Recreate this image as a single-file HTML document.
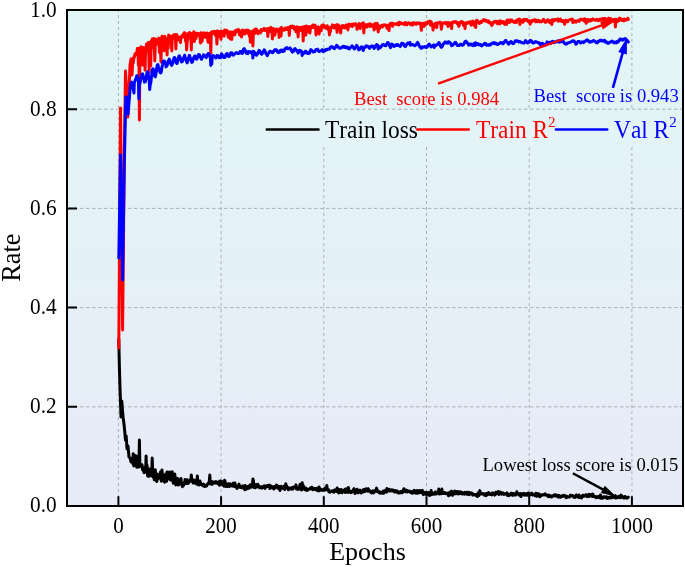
<!DOCTYPE html>
<html><head><meta charset="utf-8"><style>
html,body{margin:0;padding:0;background:#fff;width:685px;height:567px;overflow:hidden}
svg{display:block;will-change:transform}
text{font-family:"Liberation Serif",serif;font-kerning:none}
</style></head><body>
<svg width="685" height="567" viewBox="0 0 685 567">
<defs>
<linearGradient id="bg" gradientUnits="userSpaceOnUse" x1="0" y1="10" x2="0" y2="506">
<stop offset="0" stop-color="#E2F6F6"/>
<stop offset="1" stop-color="#E7EBF8"/>
</linearGradient>
</defs>
<rect x="67" y="10" width="616" height="496" fill="url(#bg)"/>
<g stroke="#aeb1b5" stroke-width="1" fill="none">
<path stroke-dasharray="3.6,2.4" d="M67.9,406.8H683 M67.9,307.6H683 M67.9,208.4H683 M67.9,109.2H683"/>
<path stroke-dasharray="3.1,2.9" d="M118.4,9.0V506 M221.1,9.0V506 M323.8,9.0V506 M426.5,9.0V506 M529.2,9.0V506 M631.9,9.0V506"/>
</g>
<rect x="262.8" y="111" width="420" height="33.8" fill="url(#bg)"/>
<g fill="none" stroke-linejoin="round" stroke-linecap="round" stroke-width="3">
<path stroke="#000" d="M118.8,339.0L119.4,367.0L120.0,388.0L120.4,399.0L121.0,417.0L121.8,401.0L122.6,412.0L123.2,418.0L124.0,424.0L124.8,432.0L125.5,440.0L126.2,436.0L127.0,449.0L128.0,446.0L129.0,457.0L130.0,458.0L131.0,462.0L132.0,458.0L133.0,464.0L133.2,453.7L133.8,465.9L134.3,463.6L134.8,462.8L135.3,455.6L135.8,464.5L136.3,465.0L136.8,467.3L137.3,459.8L137.9,455.9L138.4,464.2L138.9,467.0L139.4,440.0L139.9,465.4L140.4,464.2L140.9,466.2L141.5,466.3L142.0,464.7L142.5,469.3L143.0,470.4L143.5,467.7L144.0,472.7L144.5,471.8L145.1,471.8L145.6,472.0L146.1,456.0L146.6,469.8L147.1,465.2L147.6,475.9L148.1,471.3L148.6,476.4L149.2,469.0L149.7,471.7L150.2,469.2L150.7,475.3L151.2,475.9L151.7,473.3L152.2,458.0L152.8,475.5L153.3,477.3L153.8,475.7L154.3,479.7L154.8,476.8L155.3,469.8L155.8,479.6L156.3,480.7L156.9,481.4L157.4,474.1L157.9,478.8L158.4,477.8L158.9,476.8L159.4,475.3L159.9,477.7L160.5,471.9L161.0,479.7L161.5,481.3L162.0,470.0L162.5,477.9L163.0,475.8L163.5,478.7L164.1,481.2L164.6,482.2L165.1,475.0L165.6,474.0L166.1,479.7L166.6,481.3L167.1,472.0L167.6,476.8L168.2,478.8L168.7,478.4L169.2,478.3L169.7,472.0L170.2,479.9L170.7,480.1L171.2,479.7L171.8,479.8L172.3,471.8L172.8,480.0L173.3,483.2L173.8,478.5L174.3,478.9L174.8,474.0L175.3,482.3L175.9,484.9L176.4,481.2L176.9,480.1L177.4,478.3L177.9,482.9L178.4,485.1L178.9,479.8L179.5,480.8L180.0,483.7L180.5,482.3L181.0,478.5L181.5,484.4L182.0,485.5L182.5,486.7L183.1,484.5L183.6,485.4L184.1,482.8L184.6,483.6L185.1,479.5L185.6,480.3L186.1,483.6L186.6,481.2L187.2,479.7L187.7,482.5L188.2,483.4L188.7,482.3L189.2,482.4L189.7,480.5L190.2,479.7L190.8,479.9L191.3,475.0L191.8,480.1L192.3,481.4L192.8,482.4L193.3,483.1L193.8,482.3L194.3,480.0L194.9,482.4L195.4,482.7L195.9,483.7L196.4,483.0L196.9,481.3L197.4,476.0L197.9,484.8L198.5,483.0L199.0,484.3L199.5,484.8L200.0,481.1L200.5,483.0L201.0,483.7L201.5,484.5L202.1,485.1L202.6,485.3L203.1,485.8L203.6,484.1L204.1,486.1L204.6,485.5L205.1,486.5L205.6,485.5L206.2,485.0L206.7,486.0L207.2,484.6L207.7,484.1L208.2,483.4L208.7,482.6L209.2,483.0L209.8,475.0L210.3,483.9L210.8,483.5L211.3,484.1L211.8,481.6L212.3,484.2L212.8,482.0L213.3,481.9L213.9,482.5L214.4,482.0L214.9,483.1L215.4,482.1L215.9,481.6L216.4,482.1L216.9,482.9L217.5,483.7L218.0,482.3L218.5,483.6L219.0,481.4L219.5,485.3L220.0,480.9L220.5,483.3L221.0,483.4L221.6,481.2L222.1,483.6L222.6,484.9L223.1,484.7L223.6,484.9L224.1,486.1L224.6,480.3L225.2,481.9L225.7,485.5L226.2,486.5L226.7,484.5L227.2,486.5L227.7,484.7L228.2,483.7L228.8,485.2L229.3,486.6L229.8,485.6L230.3,483.9L230.8,485.5L231.3,484.5L231.8,485.3L232.3,486.1L232.9,483.8L233.4,483.0L233.9,486.0L234.4,486.5L234.9,483.1L235.4,485.3L235.9,485.6L236.5,487.7L237.0,488.5L237.5,486.3L238.0,487.3L238.5,486.0L239.0,484.1L239.5,486.8L240.0,487.3L240.6,486.5L241.1,487.5L241.6,487.9L242.1,486.4L242.6,485.9L243.1,487.6L243.6,487.9L244.2,488.0L244.7,489.7L245.2,485.6L245.7,488.0L246.2,487.9L246.7,489.0L247.2,488.4L247.8,488.3L248.3,486.2L248.8,487.0L249.3,488.2L249.8,486.5L250.3,484.7L250.8,486.1L251.3,487.1L251.9,486.3L252.4,485.6L252.9,479.0L253.4,480.5L253.9,487.4L254.4,484.3L254.9,485.2L255.5,487.7L256.0,486.5L256.5,484.6L257.0,486.8L257.5,485.8L258.0,484.4L258.5,486.1L259.0,487.4L259.6,487.9L260.1,487.3L260.6,487.1L261.1,487.5L261.6,486.7L262.1,488.2L262.6,487.0L263.2,487.2L263.7,487.5L264.2,485.8L264.7,486.1L265.2,488.4L265.7,486.9L266.2,486.0L266.8,486.5L267.3,485.6L267.8,486.5L268.3,485.6L268.8,485.7L269.3,485.1L269.8,488.6L270.3,486.8L270.9,485.9L271.4,487.5L271.9,487.4L272.4,488.0L272.9,486.7L273.4,488.4L273.9,489.0L274.5,486.5L275.0,488.1L275.5,487.1L276.0,487.4L276.5,485.0L277.0,485.5L277.5,487.3L278.0,486.8L278.6,488.8L279.1,486.4L279.6,487.5L280.1,490.4L280.6,486.6L281.1,486.4L281.6,487.4L282.2,487.3L282.7,488.2L283.2,487.3L283.7,486.3L284.2,487.1L284.7,489.5L285.2,488.0L285.8,483.8L286.3,486.7L286.8,486.1L287.3,487.9L287.8,487.3L288.3,489.7L288.8,488.9L289.3,488.9L289.9,488.2L290.4,487.9L290.9,488.2L291.4,489.1L291.9,488.3L292.4,487.4L292.9,489.1L293.5,487.9L294.0,487.1L294.5,486.8L295.0,487.0L295.5,487.0L296.0,484.9L296.5,489.0L297.0,488.7L297.6,488.0L298.1,489.4L298.6,488.9L299.1,488.8L299.6,486.0L300.1,484.3L300.6,488.9L301.2,489.8L301.7,490.0L302.2,482.8L302.7,486.8L303.2,485.3L303.7,488.7L304.2,488.4L304.8,489.7L305.3,488.0L305.8,489.8L306.3,488.3L306.8,490.4L307.3,489.4L307.8,490.1L308.3,489.9L308.9,489.0L309.4,489.0L309.9,488.3L310.4,488.8L310.9,488.4L311.4,487.3L311.9,487.3L312.5,489.7L313.0,488.2L313.5,489.5L314.0,489.2L314.5,488.6L315.0,488.6L315.5,489.6L316.0,489.8L316.6,490.2L317.1,488.3L317.6,488.9L318.1,489.3L318.6,491.0L319.1,487.1L319.6,489.9L320.2,489.0L320.7,490.1L321.2,489.3L321.7,490.2L322.2,490.0L322.7,490.2L323.2,490.2L323.8,490.1L324.3,488.9L324.8,490.1L325.3,489.2L325.8,487.5L326.3,489.2L326.8,485.5L327.3,490.1L327.9,489.6L328.4,489.5L328.9,491.8L329.4,491.7L329.9,492.2L330.4,491.7L330.9,491.1L331.5,490.9L332.0,491.2L332.5,491.3L333.0,492.0L333.5,490.6L334.0,492.1L334.5,490.7L335.0,489.9L335.6,490.5L336.1,490.3L336.6,491.4L337.1,488.1L337.6,489.4L338.1,489.5L338.6,492.9L339.2,489.4L339.7,492.7L340.2,490.5L340.7,490.7L341.2,489.5L341.7,490.0L342.2,492.7L342.7,492.0L343.3,491.0L343.8,491.5L344.3,490.3L344.8,489.3L345.3,492.6L345.8,490.0L346.3,488.9L346.9,491.4L347.4,492.2L347.9,492.4L348.4,487.5L348.9,490.7L349.4,491.9L349.9,491.2L350.5,491.3L351.0,492.7L351.5,491.3L352.0,491.8L352.5,491.3L353.0,491.9L353.5,489.5L354.0,488.7L354.6,490.2L355.1,493.5L355.6,492.0L356.1,491.6L356.6,491.4L357.1,489.2L357.6,492.1L358.2,492.9L358.7,490.6L359.2,491.9L359.7,492.0L360.2,490.1L360.7,492.5L361.2,493.0L361.7,492.0L362.3,491.6L362.8,492.2L363.3,489.8L363.8,491.0L364.3,491.6L364.8,489.3L365.3,491.3L365.9,490.1L366.4,488.7L366.9,490.6L367.4,489.9L367.9,491.2L368.4,488.8L368.9,491.0L369.5,490.6L370.0,491.8L370.5,491.1L371.0,491.5L371.5,493.0L372.0,492.2L372.5,491.6L373.0,490.8L373.6,492.9L374.1,492.3L374.6,491.1L375.1,491.4L375.6,490.1L376.1,490.1L376.6,488.1L377.2,491.5L377.7,491.6L378.2,490.9L378.7,492.4L379.2,492.7L379.7,492.3L380.2,493.2L380.7,492.1L381.3,492.4L381.8,493.0L382.3,492.5L382.8,493.1L383.3,491.0L383.8,493.2L384.3,491.0L384.9,491.4L385.4,490.2L385.9,491.8L386.4,492.2L386.9,488.6L387.4,491.5L387.9,489.2L388.5,489.7L389.0,489.8L389.5,489.3L390.0,491.1L390.5,490.4L391.0,490.3L391.5,490.9L392.0,489.8L392.6,490.0L393.1,490.2L393.6,491.6L394.1,491.6L394.6,492.0L395.1,490.6L395.6,490.6L396.2,491.5L396.7,492.2L397.2,491.0L397.7,491.7L398.2,493.1L398.7,493.1L399.2,493.0L399.7,492.0L400.3,491.7L400.8,492.8L401.3,491.3L401.8,492.0L402.3,492.7L402.8,491.1L403.3,490.8L403.9,488.7L404.4,491.6L404.9,491.5L405.4,491.3L405.9,491.8L406.4,490.1L406.9,490.9L407.5,491.9L408.0,491.1L408.5,490.9L409.0,491.1L409.5,491.5L410.0,492.1L410.5,491.4L411.0,492.4L411.6,493.0L412.1,491.9L412.6,493.1L413.1,492.3L413.6,491.1L414.1,490.3L414.6,491.4L415.2,492.9L415.7,491.0L416.2,493.3L416.7,492.7L417.2,490.4L417.7,492.6L418.2,493.2L418.7,491.1L419.3,492.6L419.8,490.4L420.3,492.2L420.8,490.8L421.3,492.8L421.8,491.0L422.3,490.4L422.9,493.0L423.4,494.6L423.9,492.2L424.4,493.4L424.9,492.9L425.4,492.6L425.9,493.6L426.4,494.6L427.0,492.4L427.5,494.0L428.0,494.0L428.5,492.6L429.0,495.1L429.5,495.4L430.0,492.9L430.6,495.0L431.1,490.5L431.6,493.1L432.1,494.4L432.6,493.2L433.1,493.2L433.6,494.2L434.2,494.1L434.7,493.9L435.2,492.0L435.7,491.9L436.2,494.1L436.7,492.4L437.2,493.3L437.7,492.2L438.3,492.9L438.8,489.1L439.3,494.1L439.8,491.9L440.3,492.5L440.8,492.5L441.3,493.7L441.9,489.1L442.4,492.9L442.9,492.9L443.4,493.6L443.9,493.6L444.4,492.6L444.9,492.6L445.4,493.0L446.0,493.7L446.5,493.3L447.0,493.0L447.5,493.7L448.0,494.1L448.5,495.7L449.0,493.5L449.6,492.3L450.1,495.0L450.6,492.1L451.1,492.3L451.6,491.1L452.1,493.4L452.6,495.4L453.2,493.6L453.7,494.2L454.2,493.0L454.7,491.1L455.2,491.2L455.7,493.7L456.2,493.0L456.7,491.7L457.3,493.6L457.8,491.5L458.3,493.6L458.8,493.9L459.3,492.1L459.8,491.9L460.3,493.5L460.9,492.1L461.4,493.8L461.9,492.3L462.4,494.0L462.9,492.7L463.4,493.4L463.9,493.2L464.4,494.1L465.0,492.4L465.5,493.5L466.0,493.2L466.5,493.9L467.0,492.2L467.5,494.4L468.0,492.8L468.6,492.3L469.1,494.3L469.6,494.6L470.1,493.3L470.6,492.8L471.1,493.6L471.6,493.1L472.2,493.5L472.7,495.1L473.2,494.4L473.7,494.3L474.2,494.6L474.7,494.5L475.2,495.3L475.7,495.4L476.3,494.5L476.8,494.8L477.3,496.5L477.8,494.8L478.3,492.7L478.8,495.6L479.3,493.8L479.9,490.6L480.4,494.1L480.9,492.9L481.4,493.3L481.9,494.0L482.4,493.8L482.9,493.5L483.4,493.8L484.0,493.9L484.5,495.3L485.0,493.8L485.5,493.8L486.0,495.7L486.5,493.5L487.0,494.9L487.6,494.6L488.1,493.5L488.6,492.5L489.1,493.9L489.6,494.1L490.1,494.4L490.6,493.8L491.2,494.7L491.7,494.9L492.2,493.1L492.7,492.8L493.2,494.0L493.7,493.4L494.2,493.5L494.7,495.1L495.3,494.4L495.8,492.3L496.3,493.7L496.8,493.6L497.3,493.6L497.8,493.4L498.3,491.5L498.9,494.5L499.4,493.2L499.9,493.6L500.4,492.1L500.9,493.2L501.4,494.2L501.9,493.8L502.4,493.0L503.0,492.8L503.5,493.2L504.0,494.4L504.5,493.8L505.0,494.0L505.5,493.7L506.0,493.8L506.6,494.3L507.1,492.9L507.6,495.6L508.1,494.0L508.6,494.3L509.1,495.7L509.6,494.8L510.2,494.6L510.7,494.0L511.2,493.2L511.7,494.4L512.2,495.1L512.7,493.6L513.2,495.3L513.7,493.5L514.3,493.9L514.8,494.8L515.3,494.4L515.8,495.0L516.3,494.0L516.8,491.8L517.3,493.4L517.9,493.9L518.4,494.1L518.9,493.9L519.4,495.2L519.9,494.5L520.4,493.5L520.9,496.6L521.4,494.1L522.0,493.7L522.5,495.1L523.0,495.1L523.5,493.7L524.0,493.4L524.5,493.7L525.0,495.2L525.6,494.2L526.1,493.8L526.6,494.4L527.1,495.3L527.6,493.4L528.1,494.0L528.6,493.1L529.1,495.4L529.7,495.1L530.2,494.5L530.7,493.9L531.2,494.0L531.7,493.0L532.2,495.0L532.7,494.1L533.3,494.2L533.8,494.7L534.3,495.0L534.8,495.6L535.3,495.8L535.8,493.3L536.3,494.8L536.9,496.2L537.4,493.6L537.9,496.0L538.4,495.2L538.9,493.8L539.4,495.2L539.9,496.8L540.4,495.4L541.0,494.8L541.5,495.5L542.0,495.2L542.5,495.2L543.0,494.5L543.5,494.8L544.0,494.9L544.6,494.2L545.1,493.9L545.6,494.7L546.1,495.2L546.6,495.0L547.1,495.0L547.6,495.1L548.1,496.6L548.7,495.1L549.2,495.8L549.7,496.6L550.2,495.5L550.7,495.8L551.2,496.4L551.7,496.9L552.3,496.0L552.8,496.1L553.3,495.9L553.8,495.1L554.3,495.1L554.8,495.8L555.3,494.8L555.9,496.0L556.4,495.0L556.9,495.6L557.4,496.4L557.9,495.8L558.4,497.2L558.9,495.4L559.4,496.5L560.0,496.6L560.5,497.1L561.0,496.6L561.5,496.0L562.0,495.8L562.5,495.7L563.0,496.4L563.6,495.2L564.1,496.0L564.6,495.7L565.1,496.1L565.6,495.9L566.1,497.7L566.6,496.1L567.1,496.8L567.7,496.9L568.2,497.1L568.7,496.9L569.2,496.7L569.7,496.9L570.2,495.2L570.7,496.1L571.3,495.3L571.8,495.5L572.3,495.4L572.8,495.6L573.3,496.3L573.8,497.3L574.3,496.8L574.9,496.6L575.4,497.3L575.9,495.7L576.4,494.9L576.9,495.9L577.4,495.9L577.9,496.8L578.4,497.3L579.0,495.0L579.5,497.5L580.0,497.0L580.5,496.7L581.0,496.6L581.5,498.1L582.0,496.6L582.6,495.3L583.1,496.4L583.6,495.2L584.1,496.1L584.6,495.5L585.1,495.6L585.6,495.5L586.1,494.7L586.7,496.4L587.2,495.2L587.7,496.7L588.2,495.3L588.7,494.4L589.2,495.9L589.7,496.3L590.3,495.7L590.8,494.6L591.3,495.3L591.8,496.0L592.3,496.5L592.8,494.1L593.3,495.0L593.9,496.0L594.4,496.7L594.9,496.5L595.4,496.5L595.9,497.6L596.4,497.7L596.9,497.6L597.4,496.5L598.0,497.2L598.5,497.1L599.0,496.4L599.5,497.8L600.0,497.3L600.5,495.0L601.0,498.2L601.6,497.8L602.1,497.9L602.6,498.2L603.1,497.9L603.6,496.7L604.1,497.2L604.6,496.8L605.1,497.1L605.7,497.7L606.2,497.9L606.7,496.8L607.2,498.5L607.7,498.1L608.2,497.3L608.7,497.9L609.3,497.5L609.8,497.0L610.3,497.9L610.8,497.3L611.3,496.6L611.8,497.8L612.3,496.9L612.9,497.5L613.4,496.2L613.9,497.1L614.4,496.5L614.9,496.4L615.4,495.7L615.9,498.1L616.4,496.7L617.0,497.0L617.5,497.6L618.0,496.9L618.5,497.4L619.0,496.4L619.5,497.4L620.0,497.0L620.6,497.6L621.1,495.1L621.6,496.5L622.1,496.3L622.6,496.9L623.1,497.4L623.6,498.0L624.1,498.1L624.7,496.7L625.2,496.5L625.7,497.8L626.2,497.9L626.7,497.7L627.2,498.2L627.7,497.8L628.3,497.1"/>
<path stroke="#ff0000" d="M118.8,348.0L120.5,108.0L122.6,330.0L124.2,160.0L125.5,71.0L126.6,90.0L127.8,117.0L128.8,95.0L130.0,65.0L131.0,59.0L132.0,75.0L133.0,58.0L133.2,63.1L133.8,58.6L134.3,57.5L134.8,54.2L135.3,53.9L135.8,53.0L136.3,53.4L136.8,54.7L137.3,48.6L137.9,49.2L138.4,65.5L138.9,48.2L139.4,120.0L139.9,49.2L140.4,48.8L140.9,46.8L141.5,49.1L142.0,50.1L142.5,65.1L143.0,47.6L143.5,48.7L144.0,65.0L144.5,49.2L145.1,70.2L145.6,47.2L146.1,47.6L146.6,44.0L147.1,44.9L147.6,51.2L148.1,43.6L148.6,42.4L149.2,72.0L149.7,43.4L150.2,42.7L150.7,65.9L151.2,41.1L151.7,48.2L152.2,39.1L152.8,40.1L153.3,44.6L153.8,38.6L154.3,44.1L154.8,61.0L155.3,44.1L155.8,39.1L156.3,44.7L156.9,43.5L157.4,41.2L157.9,43.0L158.4,40.5L158.9,38.1L159.4,52.4L159.9,38.8L160.5,50.2L161.0,62.0L161.5,38.8L162.0,36.2L162.5,37.8L163.0,48.1L163.5,48.0L164.1,50.8L164.6,36.2L165.1,47.1L165.6,39.4L166.1,38.8L166.6,42.0L167.1,55.0L167.6,37.8L168.2,48.1L168.7,34.9L169.2,41.5L169.7,36.1L170.2,38.1L170.7,41.7L171.2,40.3L171.8,51.0L172.3,36.1L172.8,38.7L173.3,36.4L173.8,34.9L174.3,35.5L174.8,34.8L175.3,34.5L175.9,49.0L176.4,35.9L176.9,34.6L177.4,39.5L177.9,38.8L178.4,36.9L178.9,40.0L179.5,39.7L180.0,37.7L180.5,42.6L181.0,36.7L181.5,36.9L182.0,35.5L182.5,37.2L183.1,34.8L183.6,33.8L184.1,32.9L184.6,34.3L185.1,32.8L185.6,41.3L186.1,35.6L186.6,50.0L187.2,41.6L187.7,39.4L188.2,33.9L188.7,33.2L189.2,35.7L189.7,32.5L190.2,35.2L190.8,35.7L191.3,50.0L191.8,33.5L192.3,34.0L192.8,33.7L193.3,38.8L193.8,31.7L194.3,41.6L194.9,37.4L195.4,32.9L195.9,38.6L196.4,34.3L196.9,34.4L197.4,33.2L197.9,35.1L198.5,33.6L199.0,34.4L199.5,35.2L200.0,37.9L200.5,43.1L201.0,32.7L201.5,39.3L202.1,41.3L202.6,33.4L203.1,34.4L203.6,32.8L204.1,37.3L204.6,33.7L205.1,36.7L205.6,33.7L206.2,33.2L206.7,37.5L207.2,32.9L207.7,40.4L208.2,42.3L208.7,34.9L209.2,33.6L209.8,35.2L210.3,33.4L210.8,53.5L211.3,31.9L211.8,33.6L212.3,33.5L212.8,31.7L213.3,31.7L213.9,33.2L214.4,31.4L214.9,31.8L215.4,35.3L215.9,32.8L216.4,31.3L216.9,44.1L217.5,31.0L218.0,37.1L218.5,31.3L219.0,31.6L219.5,36.3L220.0,32.8L220.5,31.6L221.0,39.3L221.6,31.2L222.1,34.2L222.6,33.2L223.1,31.7L223.6,31.3L224.1,36.2L224.6,30.0L225.2,30.4L225.7,32.7L226.2,31.7L226.7,30.2L227.2,32.2L227.7,33.8L228.2,36.9L228.8,37.5L229.3,31.7L229.8,32.6L230.3,39.1L230.8,34.8L231.3,32.0L231.8,39.5L232.3,32.4L232.9,31.9L233.4,34.8L233.9,34.2L234.4,33.1L234.9,34.8L235.4,30.6L235.9,31.4L236.5,31.8L237.0,30.1L237.5,30.4L238.0,29.7L238.5,30.6L239.0,29.9L239.5,35.0L240.0,30.9L240.6,31.7L241.1,34.0L241.6,36.9L242.1,34.1L242.6,30.0L243.1,31.4L243.6,32.1L244.2,31.3L244.7,34.1L245.2,30.4L245.7,33.3L246.2,31.4L246.7,30.0L247.2,30.1L247.8,32.9L248.3,30.6L248.8,30.6L249.3,36.2L249.8,32.1L250.3,42.1L250.8,33.8L251.3,33.4L251.9,31.2L252.4,34.3L252.9,46.0L253.4,31.9L253.9,30.1L254.4,32.0L254.9,33.4L255.5,29.1L256.0,30.1L256.5,29.0L257.0,31.1L257.5,32.9L258.0,33.8L258.5,31.2L259.0,31.5L259.6,31.1L260.1,31.3L260.6,32.9L261.1,29.5L261.6,30.5L262.1,29.8L262.6,30.7L263.2,29.7L263.7,29.2L264.2,28.4L264.7,29.1L265.2,30.6L265.7,29.1L266.2,29.4L266.8,29.7L267.3,28.9L267.8,36.4L268.3,28.5L268.8,30.7L269.3,30.1L269.8,31.8L270.3,29.5L270.9,27.4L271.4,30.5L271.9,28.1L272.4,39.0L272.9,29.2L273.4,28.5L273.9,29.2L274.5,35.3L275.0,34.2L275.5,31.6L276.0,30.2L276.5,29.0L277.0,29.0L277.5,30.0L278.0,31.6L278.6,29.7L279.1,37.5L279.6,30.2L280.1,34.7L280.6,28.0L281.1,36.0L281.6,27.5L282.2,29.7L282.7,29.9L283.2,29.3L283.7,30.3L284.2,30.2L284.7,28.9L285.2,27.9L285.8,28.0L286.3,29.6L286.8,29.6L287.3,29.2L287.8,27.5L288.3,27.5L288.8,27.6L289.3,35.4L289.9,27.6L290.4,26.3L290.9,27.7L291.4,26.6L291.9,27.4L292.4,26.0L292.9,27.7L293.5,27.0L294.0,26.7L294.5,29.4L295.0,28.1L295.5,27.5L296.0,31.8L296.5,27.0L297.0,26.7L297.6,27.6L298.1,37.0L298.6,29.4L299.1,27.5L299.6,28.2L300.1,30.3L300.6,29.0L301.2,27.2L301.7,30.8L302.2,27.4L302.7,28.0L303.2,41.0L303.7,26.7L304.2,27.7L304.8,26.6L305.3,26.8L305.8,35.1L306.3,26.1L306.8,28.0L307.3,30.7L307.8,26.9L308.3,28.5L308.9,32.1L309.4,26.5L309.9,33.0L310.4,28.2L310.9,27.9L311.4,26.5L311.9,26.5L312.5,25.3L313.0,27.4L313.5,24.9L314.0,27.2L314.5,26.5L315.0,25.2L315.5,26.2L316.0,35.0L316.6,28.3L317.1,27.7L317.6,27.5L318.1,26.8L318.6,27.5L319.1,34.0L319.6,30.8L320.2,30.2L320.7,27.5L321.2,30.7L321.7,25.6L322.2,27.5L322.7,24.9L323.2,25.7L323.8,25.4L324.3,27.1L324.8,26.3L325.3,26.2L325.8,28.2L326.3,28.4L326.8,27.9L327.3,25.8L327.9,29.3L328.4,28.7L328.9,28.1L329.4,34.9L329.9,27.5L330.4,31.5L330.9,27.2L331.5,27.3L332.0,26.9L332.5,24.9L333.0,25.4L333.5,27.5L334.0,25.9L334.5,28.1L335.0,25.5L335.6,25.8L336.1,26.0L336.6,24.7L337.1,32.3L337.6,25.0L338.1,24.8L338.6,25.6L339.2,28.4L339.7,28.1L340.2,29.4L340.7,33.0L341.2,26.9L341.7,26.0L342.2,25.6L342.7,27.6L343.3,26.4L343.8,25.7L344.3,26.3L344.8,28.0L345.3,26.7L345.8,27.5L346.3,24.9L346.9,25.0L347.4,25.5L347.9,29.9L348.4,26.4L348.9,24.1L349.4,24.8L349.9,25.0L350.5,24.6L351.0,26.1L351.5,26.3L352.0,24.2L352.5,26.5L353.0,24.0L353.5,25.3L354.0,24.3L354.6,24.6L355.1,23.7L355.6,23.7L356.1,24.4L356.6,25.3L357.1,29.2L357.6,25.2L358.2,24.8L358.7,26.3L359.2,23.6L359.7,24.8L360.2,28.6L360.7,25.1L361.2,25.0L361.7,25.3L362.3,23.2L362.8,23.2L363.3,22.8L363.8,33.0L364.3,24.9L364.8,24.6L365.3,25.7L365.9,27.2L366.4,25.2L366.9,27.0L367.4,24.5L367.9,24.5L368.4,26.1L368.9,24.4L369.5,25.7L370.0,23.9L370.5,26.4L371.0,24.1L371.5,25.4L372.0,26.2L372.5,25.2L373.0,25.8L373.6,24.7L374.1,30.0L374.6,27.4L375.1,23.5L375.6,27.1L376.1,28.3L376.6,23.9L377.2,23.4L377.7,25.7L378.2,32.0L378.7,26.0L379.2,29.0L379.7,28.0L380.2,26.1L380.7,26.0L381.3,26.6L381.8,25.2L382.3,27.0L382.8,25.3L383.3,25.1L383.8,25.7L384.3,24.8L384.9,25.2L385.4,25.1L385.9,25.6L386.4,25.3L386.9,28.2L387.4,25.2L387.9,27.9L388.5,25.7L389.0,30.5L389.5,25.0L390.0,23.8L390.5,23.5L391.0,24.6L391.5,23.7L392.0,23.2L392.6,26.2L393.1,24.2L393.6,23.6L394.1,24.1L394.6,24.2L395.1,24.1L395.6,24.1L396.2,24.3L396.7,23.6L397.2,23.3L397.7,24.4L398.2,24.2L398.7,25.0L399.2,22.3L399.7,22.6L400.3,23.9L400.8,23.2L401.3,23.0L401.8,23.2L402.3,23.6L402.8,24.0L403.3,23.9L403.9,23.5L404.4,23.2L404.9,24.7L405.4,22.4L405.9,24.5L406.4,23.8L406.9,24.8L407.5,23.3L408.0,23.5L408.5,22.8L409.0,23.0L409.5,23.2L410.0,23.2L410.5,24.6L411.0,24.7L411.6,24.4L412.1,23.1L412.6,25.1L413.1,24.5L413.6,22.8L414.1,22.7L414.6,23.6L415.2,23.4L415.7,23.0L416.2,24.4L416.7,23.0L417.2,23.2L417.7,23.1L418.2,23.2L418.7,23.0L419.3,23.8L419.8,23.1L420.3,23.1L420.8,23.6L421.3,30.3L421.8,23.9L422.3,23.8L422.9,23.3L423.4,23.3L423.9,26.4L424.4,23.6L424.9,25.4L425.4,22.7L425.9,22.7L426.4,22.7L427.0,24.0L427.5,22.2L428.0,21.5L428.5,22.3L429.0,22.2L429.5,22.0L430.0,21.2L430.6,25.3L431.1,21.7L431.6,23.4L432.1,23.7L432.6,24.6L433.1,30.0L433.6,24.5L434.2,24.9L434.7,24.3L435.2,23.4L435.7,26.8L436.2,27.1L436.7,27.5L437.2,22.8L437.7,23.0L438.3,23.1L438.8,23.0L439.3,22.4L439.8,23.1L440.3,22.3L440.8,23.8L441.3,29.2L441.9,25.5L442.4,23.9L442.9,23.2L443.4,22.8L443.9,23.1L444.4,22.9L444.9,22.8L445.4,22.6L446.0,23.8L446.5,22.6L447.0,24.0L447.5,22.7L448.0,26.5L448.5,22.8L449.0,23.7L449.6,23.1L450.1,22.8L450.6,23.8L451.1,25.4L451.6,28.5L452.1,22.7L452.6,22.0L453.2,21.9L453.7,22.2L454.2,22.1L454.7,22.3L455.2,21.7L455.7,22.3L456.2,22.0L456.7,22.0L457.3,23.9L457.8,23.3L458.3,24.7L458.8,26.4L459.3,25.2L459.8,22.2L460.3,22.9L460.9,22.2L461.4,21.6L461.9,21.6L462.4,22.8L462.9,22.2L463.4,25.3L463.9,22.8L464.4,23.1L465.0,28.5L465.5,23.8L466.0,23.4L466.5,22.8L467.0,22.5L467.5,23.3L468.0,22.8L468.6,22.2L469.1,23.0L469.6,22.7L470.1,23.3L470.6,21.6L471.1,25.2L471.6,22.1L472.2,22.7L472.7,21.1L473.2,22.2L473.7,22.6L474.2,25.5L474.7,23.0L475.2,21.7L475.7,27.5L476.3,20.4L476.8,21.5L477.3,20.4L477.8,21.2L478.3,22.2L478.8,22.2L479.3,23.5L479.9,23.1L480.4,22.3L480.9,21.3L481.4,22.4L481.9,21.9L482.4,21.1L482.9,20.7L483.4,19.7L484.0,19.7L484.5,19.9L485.0,20.9L485.5,20.5L486.0,21.1L486.5,20.4L487.0,21.3L487.6,22.0L488.1,21.4L488.6,20.8L489.1,22.7L489.6,22.1L490.1,23.0L490.6,22.7L491.2,24.4L491.7,25.5L492.2,23.7L492.7,24.2L493.2,22.3L493.7,22.0L494.2,21.4L494.7,21.6L495.3,22.0L495.8,21.4L496.3,21.9L496.8,23.2L497.3,21.4L497.8,23.7L498.3,23.1L498.9,22.6L499.4,21.3L499.9,24.1L500.4,20.7L500.9,22.0L501.4,22.3L501.9,22.4L502.4,21.5L503.0,22.3L503.5,23.3L504.0,21.8L504.5,22.6L505.0,24.5L505.5,22.1L506.0,22.9L506.6,24.3L507.1,20.2L507.6,21.1L508.1,20.0L508.6,20.9L509.1,21.5L509.6,22.5L510.2,20.0L510.7,20.1L511.2,21.2L511.7,20.0L512.2,21.2L512.7,21.6L513.2,21.4L513.7,22.3L514.3,22.0L514.8,22.3L515.3,21.3L515.8,20.8L516.3,22.6L516.8,20.3L517.3,19.8L517.9,19.5L518.4,19.9L518.9,19.1L519.4,19.0L519.9,24.5L520.4,20.8L520.9,20.4L521.4,21.0L522.0,20.4L522.5,21.2L523.0,22.3L523.5,19.5L524.0,19.5L524.5,20.5L525.0,19.3L525.6,20.1L526.1,19.6L526.6,19.4L527.1,19.6L527.6,21.2L528.1,20.8L528.6,20.9L529.1,22.1L529.7,20.7L530.2,24.3L530.7,21.1L531.2,21.4L531.7,21.9L532.2,20.5L532.7,20.4L533.3,20.8L533.8,20.2L534.3,20.7L534.8,19.7L535.3,21.3L535.8,21.8L536.3,20.1L536.9,21.3L537.4,21.7L537.9,20.7L538.4,20.4L538.9,21.3L539.4,21.0L539.9,21.8L540.4,21.2L541.0,21.8L541.5,21.7L542.0,21.1L542.5,21.2L543.0,20.2L543.5,19.3L544.0,20.6L544.6,20.7L545.1,22.3L545.6,21.9L546.1,21.1L546.6,21.9L547.1,20.4L547.6,19.8L548.1,19.9L548.7,20.6L549.2,20.7L549.7,22.7L550.2,20.4L550.7,21.1L551.2,20.6L551.7,24.6L552.3,19.7L552.8,20.7L553.3,19.7L553.8,21.1L554.3,19.6L554.8,19.6L555.3,20.2L555.9,20.0L556.4,19.5L556.9,19.9L557.4,19.4L557.9,18.9L558.4,21.2L558.9,19.6L559.4,20.5L560.0,19.3L560.5,19.1L561.0,20.8L561.5,21.4L562.0,20.5L562.5,21.5L563.0,20.5L563.6,20.8L564.1,22.5L564.6,24.3L565.1,21.2L565.6,20.2L566.1,20.5L566.6,20.3L567.1,21.0L567.7,21.8L568.2,20.4L568.7,20.4L569.2,20.2L569.7,19.8L570.2,19.5L570.7,19.3L571.3,19.3L571.8,19.2L572.3,19.1L572.8,22.5L573.3,22.3L573.8,21.3L574.3,20.7L574.9,21.0L575.4,21.4L575.9,22.2L576.4,21.1L576.9,21.0L577.4,20.9L577.9,20.6L578.4,21.2L579.0,21.4L579.5,19.8L580.0,20.2L580.5,20.1L581.0,19.2L581.5,19.6L582.0,19.2L582.6,19.5L583.1,20.0L583.6,19.4L584.1,21.0L584.6,18.7L585.1,19.6L585.6,19.7L586.1,23.3L586.7,20.8L587.2,19.5L587.7,21.8L588.2,19.6L588.7,19.8L589.2,20.0L589.7,20.0L590.3,20.9L590.8,19.6L591.3,20.5L591.8,19.4L592.3,19.3L592.8,18.9L593.3,19.9L593.9,19.7L594.4,19.7L594.9,20.1L595.4,19.7L595.9,20.2L596.4,20.1L596.9,19.3L597.4,19.5L598.0,19.9L598.5,20.8L599.0,20.4L599.5,19.6L600.0,19.0L600.5,19.9L601.0,19.6L601.6,19.2L602.1,18.9L602.6,18.7L603.1,18.5L603.6,21.0L604.1,18.4L604.6,18.7L605.1,18.5L605.7,22.5L606.2,20.7L606.7,19.2L607.2,20.6L607.7,19.6L608.2,18.9L608.7,18.2L609.3,19.5L609.8,18.7L610.3,19.8L610.8,18.6L611.3,21.8L611.8,20.1L612.3,20.1L612.9,19.6L613.4,20.9L613.9,20.7L614.4,21.6L614.9,19.3L615.4,27.0L615.9,20.6L616.4,19.5L617.0,21.8L617.5,19.7L618.0,20.3L618.5,19.2L619.0,20.8L619.5,18.1L620.0,18.5L620.6,19.7L621.1,18.9L621.6,19.2L622.1,20.4L622.6,19.7L623.1,20.4L623.6,20.8L624.1,19.0L624.7,20.4L625.2,19.4L625.7,19.4L626.2,19.9L626.7,19.9L627.2,19.5L627.7,18.2L628.3,19.4"/>
<path stroke="#0000ff" d="M118.8,258.0L120.5,155.0L122.6,280.0L124.2,170.0L125.8,97.0L126.8,97.0L128.0,114.0L129.2,100.0L130.5,84.0L131.6,82.0L133.0,88.0L134.0,93.0L134.3,82.7L134.8,81.5L135.3,79.8L135.8,78.9L136.3,77.5L136.8,75.7L137.3,75.9L137.9,77.7L138.4,81.0L138.9,99.0L139.4,84.4L139.9,83.5L140.4,81.2L140.9,78.2L141.5,76.7L142.0,74.2L142.5,73.8L143.0,75.3L143.5,77.2L144.0,79.9L144.5,82.1L145.1,81.9L145.6,81.0L146.1,78.0L146.6,75.0L147.1,72.4L147.6,71.7L148.1,73.0L148.6,76.6L149.2,80.2L149.7,89.6L150.2,84.9L150.7,83.3L151.2,79.7L151.7,75.1L152.2,70.5L152.8,68.8L153.3,68.9L153.8,71.3L154.3,74.1L154.8,76.3L155.3,76.9L155.8,74.8L156.3,71.5L156.9,66.8L157.4,64.9L157.9,64.6L158.4,66.6L158.9,68.4L159.4,70.2L159.9,72.1L160.5,73.0L161.0,72.6L161.5,70.7L162.0,67.1L162.5,64.7L163.0,61.9L163.5,61.0L164.1,60.9L164.6,61.3L165.1,63.3L165.6,64.4L166.1,66.9L166.6,66.3L167.1,65.5L167.6,63.9L168.2,60.9L168.7,60.6L169.2,59.1L169.7,60.2L170.2,61.3L170.7,63.6L171.2,64.7L171.8,65.4L172.3,63.9L172.8,63.2L173.3,60.8L173.8,58.5L174.3,57.5L174.8,57.6L175.3,59.3L175.9,61.6L176.4,63.1L176.9,63.5L177.4,62.5L177.9,60.2L178.4,57.7L178.9,56.1L179.5,55.8L180.0,57.4L180.5,58.5L181.0,60.4L181.5,62.0L182.0,61.7L182.5,61.4L183.1,59.3L183.6,57.6L184.1,57.6L184.6,55.2L185.1,56.9L185.6,58.3L186.1,60.4L186.6,61.9L187.2,62.8L187.7,61.2L188.2,59.2L188.7,57.8L189.2,55.6L189.7,55.6L190.2,57.6L190.8,59.8L191.3,61.0L191.8,62.4L192.3,62.3L192.8,61.0L193.3,58.9L193.8,57.5L194.3,56.6L194.9,55.9L195.4,56.6L195.9,58.3L196.4,59.2L196.9,59.1L197.4,57.2L197.9,56.0L198.5,54.5L199.0,54.6L199.5,54.8L200.0,55.8L200.5,57.6L201.0,58.3L201.5,59.3L202.1,57.9L202.6,56.9L203.1,56.4L203.6,54.7L204.1,55.3L204.6,55.4L205.1,55.8L205.6,56.9L206.2,57.6L206.7,56.9L207.2,55.5L207.7,54.0L208.2,53.5L208.7,53.4L209.2,54.1L209.8,56.2L210.3,57.5L210.8,65.5L211.3,58.0L211.8,64.0L212.3,56.1L212.8,55.5L213.3,55.7L213.9,55.9L214.4,56.6L214.9,57.1L215.4,57.1L215.9,58.0L216.4,56.5L216.9,55.7L217.5,56.2L218.0,55.6L218.5,56.6L219.0,57.6L219.5,57.2L220.0,57.0L220.5,57.6L221.0,55.4L221.6,53.9L222.1,54.5L222.6,55.4L223.1,56.8L223.6,57.5L224.1,57.6L224.6,57.6L225.2,57.0L225.7,55.2L226.2,54.0L226.7,53.7L227.2,53.5L227.7,55.6L228.2,56.2L228.8,56.5L229.3,56.3L229.8,55.6L230.3,53.9L230.8,52.8L231.3,53.5L231.8,52.8L232.3,54.1L232.9,55.0L233.4,55.3L233.9,54.5L234.4,54.2L234.9,53.7L235.4,53.1L235.9,52.7L236.5,52.9L237.0,52.7L237.5,53.5L238.0,53.6L238.5,53.5L239.0,53.2L239.5,53.3L240.0,51.6L240.6,51.8L241.1,51.3L241.6,52.8L242.1,53.5L242.6,53.2L243.1,51.2L243.6,49.1L244.2,48.7L244.7,49.6L245.2,50.4L245.7,51.3L246.2,53.1L246.7,52.7L247.2,53.5L247.8,53.7L248.3,51.4L248.8,51.6L249.3,51.8L249.8,52.0L250.3,51.8L250.8,51.7L251.3,52.9L251.9,53.2L252.4,52.4L252.9,58.0L253.4,51.3L253.9,51.6L254.4,52.8L254.9,52.7L255.5,54.7L256.0,55.0L256.5,55.3L257.0,54.6L257.5,53.9L258.0,52.6L258.5,51.6L259.0,50.4L259.6,50.9L260.1,51.6L260.6,53.0L261.1,53.8L261.6,54.3L262.1,53.9L262.6,52.9L263.2,51.5L263.7,51.1L264.2,49.9L264.7,50.2L265.2,51.6L265.7,53.0L266.2,54.0L266.8,54.5L267.3,55.7L267.8,54.7L268.3,53.6L268.8,53.0L269.3,52.4L269.8,51.2L270.3,51.5L270.9,51.4L271.4,52.1L271.9,52.5L272.4,51.5L272.9,52.6L273.4,51.9L273.9,51.2L274.5,50.1L275.0,49.6L275.5,50.1L276.0,49.9L276.5,50.7L277.0,50.2L277.5,52.2L278.0,52.1L278.6,52.6L279.1,52.2L279.6,52.1L280.1,52.1L280.6,50.2L281.1,51.3L281.6,50.1L282.2,49.9L282.7,50.5L283.2,51.5L283.7,51.1L284.2,51.1L284.7,49.1L285.2,48.5L285.8,48.7L286.3,47.9L286.8,47.6L287.3,48.4L287.8,48.8L288.3,48.7L288.8,48.6L289.3,48.3L289.9,47.9L290.4,48.7L290.9,49.4L291.4,50.6L291.9,51.2L292.4,52.1L292.9,51.5L293.5,51.4L294.0,49.6L294.5,49.8L295.0,48.6L295.5,49.5L296.0,49.7L296.5,50.5L297.0,51.3L297.6,50.7L298.1,53.0L298.6,52.0L299.1,51.4L299.6,50.4L300.1,51.1L300.6,50.8L301.2,51.1L301.7,51.5L302.2,55.5L302.7,53.4L303.2,53.3L303.7,53.6L304.2,52.6L304.8,53.0L305.3,51.2L305.8,51.2L306.3,51.9L306.8,52.8L307.3,53.4L307.8,52.9L308.3,53.5L308.9,53.2L309.4,53.3L309.9,51.4L310.4,50.4L310.9,49.7L311.4,50.1L311.9,50.6L312.5,51.2L313.0,52.0L313.5,52.0L314.0,51.9L314.5,51.3L315.0,51.4L315.5,50.0L316.0,49.4L316.6,49.5L317.1,49.6L317.6,49.2L318.1,50.4L318.6,51.1L319.1,51.5L319.6,51.1L320.2,51.1L320.7,50.8L321.2,50.5L321.7,50.2L322.2,49.7L322.7,50.8L323.2,51.6L323.8,51.2L324.3,50.1L324.8,50.9L325.3,50.3L325.8,49.7L326.3,49.4L326.8,49.9L327.3,49.7L327.9,49.2L328.4,49.0L328.9,49.1L329.4,49.2L329.9,48.3L330.4,47.2L330.9,46.8L331.5,46.7L332.0,46.8L332.5,46.8L333.0,47.6L333.5,47.5L334.0,48.4L334.5,48.6L335.0,47.9L335.6,47.1L336.1,46.7L336.6,45.2L337.1,46.6L337.6,46.2L338.1,46.6L338.6,47.6L339.2,47.7L339.7,48.3L340.2,48.1L340.7,48.0L341.2,48.1L341.7,47.5L342.2,46.8L342.7,46.7L343.3,46.4L343.8,47.2L344.3,46.6L344.8,46.9L345.3,47.7L345.8,46.9L346.3,47.1L346.9,47.4L347.4,47.1L347.9,48.2L348.4,48.7L348.9,48.4L349.4,48.8L349.9,47.9L350.5,47.7L351.0,47.0L351.5,46.7L352.0,45.9L352.5,46.2L353.0,47.2L353.5,47.7L354.0,48.6L354.6,49.0L355.1,48.0L355.6,47.1L356.1,46.3L356.6,45.4L357.1,46.0L357.6,46.8L358.2,48.1L358.7,49.9L359.2,49.4L359.7,49.5L360.2,48.8L360.7,47.7L361.2,47.0L361.7,46.8L362.3,47.2L362.8,47.4L363.3,50.5L363.8,47.8L364.3,47.6L364.8,47.3L365.3,47.4L365.9,46.0L366.4,45.8L366.9,46.0L367.4,46.2L367.9,46.2L368.4,46.8L368.9,47.6L369.5,48.3L370.0,47.8L370.5,47.0L371.0,46.4L371.5,46.1L372.0,46.1L372.5,45.9L373.0,46.4L373.6,47.5L374.1,48.4L374.6,47.6L375.1,46.3L375.6,45.7L376.1,45.2L376.6,44.5L377.2,45.0L377.7,45.2L378.2,49.0L378.7,46.4L379.2,47.6L379.7,47.9L380.2,47.8L380.7,47.3L381.3,46.2L381.8,45.9L382.3,44.7L382.8,45.0L383.3,44.6L383.8,44.6L384.3,44.8L384.9,45.6L385.4,45.6L385.9,45.8L386.4,44.5L386.9,44.1L387.4,42.6L387.9,42.5L388.5,43.1L389.0,43.5L389.5,45.8L390.0,46.5L390.5,47.7L391.0,46.6L391.5,45.5L392.0,44.1L392.6,44.8L393.1,44.9L393.6,45.5L394.1,46.5L394.6,45.9L395.1,45.8L395.6,45.5L396.2,44.7L396.7,45.3L397.2,45.5L397.7,44.5L398.2,45.4L398.7,45.5L399.2,45.5L399.7,46.1L400.3,46.5L400.8,45.2L401.3,44.3L401.8,43.2L402.3,43.8L402.8,43.5L403.3,43.7L403.9,44.8L404.4,45.9L404.9,46.2L405.4,46.6L405.9,45.6L406.4,45.0L406.9,43.8L407.5,43.2L408.0,42.9L408.5,43.5L409.0,44.0L409.5,43.7L410.0,42.5L410.5,45.3L411.0,45.0L411.6,44.6L412.1,44.5L412.6,44.4L413.1,44.8L413.6,45.3L414.1,45.3L414.6,45.8L415.2,45.5L415.7,45.0L416.2,44.6L416.7,43.5L417.2,43.2L417.7,42.4L418.2,43.7L418.7,44.3L419.3,46.4L419.8,46.4L420.3,47.2L420.8,48.0L421.3,48.4L421.8,47.1L422.3,47.2L422.9,46.8L423.4,47.3L423.9,47.2L424.4,46.5L424.9,46.9L425.4,46.7L425.9,46.9L426.4,47.6L427.0,47.0L427.5,46.6L428.0,45.3L428.5,45.0L429.0,44.1L429.5,44.5L430.0,45.6L430.6,46.2L431.1,47.0L431.6,46.3L432.1,45.7L432.6,45.9L433.1,45.4L433.6,45.0L434.2,47.5L434.7,45.1L435.2,45.5L435.7,45.7L436.2,45.2L436.7,44.9L437.2,44.8L437.7,44.2L438.3,43.7L438.8,42.6L439.3,42.9L439.8,44.4L440.3,45.3L440.8,46.8L441.3,47.4L441.9,46.8L442.4,46.2L442.9,44.8L443.4,43.7L443.9,43.5L444.4,43.4L444.9,41.9L445.4,41.9L446.0,42.3L446.5,43.0L447.0,42.3L447.5,42.8L448.0,43.1L448.5,41.7L449.0,41.9L449.6,42.4L450.1,42.8L450.6,43.1L451.1,44.7L451.6,45.7L452.1,45.2L452.6,45.3L453.2,44.6L453.7,44.1L454.2,43.7L454.7,42.9L455.2,42.3L455.7,42.5L456.2,43.2L456.7,44.4L457.3,45.5L457.8,45.5L458.3,45.6L458.8,45.4L459.3,45.4L459.8,44.6L460.3,44.3L460.9,44.1L461.4,44.5L461.9,44.6L462.4,45.3L462.9,44.8L463.4,44.8L463.9,43.8L464.4,42.9L465.0,41.5L465.5,41.6L466.0,41.2L466.5,42.1L467.0,42.4L467.5,43.3L468.0,43.8L468.6,45.0L469.1,44.2L469.6,45.0L470.1,44.3L470.6,44.0L471.1,44.2L471.6,44.8L472.2,45.3L472.7,45.7L473.2,44.6L473.7,43.8L474.2,43.5L474.7,43.1L475.2,45.5L475.7,42.7L476.3,43.4L476.8,43.6L477.3,44.3L477.8,43.8L478.3,43.8L478.8,44.9L479.3,44.3L479.9,44.7L480.4,44.5L480.9,44.5L481.4,45.6L481.9,45.9L482.4,45.3L482.9,44.9L483.4,44.7L484.0,44.1L484.5,43.3L485.0,44.0L485.5,44.1L486.0,43.7L486.5,45.3L487.0,44.8L487.6,45.1L488.1,45.1L488.6,45.3L489.1,45.1L489.6,44.4L490.1,44.9L490.6,44.9L491.2,44.3L491.7,43.2L492.2,43.3L492.7,43.1L493.2,43.2L493.7,42.5L494.2,42.8L494.7,43.8L495.3,42.9L495.8,42.9L496.3,43.5L496.8,44.0L497.3,44.6L497.8,44.5L498.3,44.1L498.9,43.6L499.4,43.5L499.9,43.3L500.4,42.7L500.9,42.5L501.4,42.8L501.9,42.8L502.4,43.0L503.0,43.8L503.5,43.2L504.0,41.9L504.5,41.9L505.0,41.0L505.5,40.4L506.0,40.5L506.6,41.9L507.1,41.9L507.6,42.5L508.1,43.5L508.6,44.2L509.1,43.6L509.6,42.8L510.2,41.9L510.7,41.8L511.2,41.6L511.7,42.4L512.2,43.2L512.7,43.6L513.2,43.4L513.7,43.6L514.3,42.5L514.8,41.9L515.3,40.8L515.8,40.8L516.3,40.7L516.8,41.3L517.3,41.0L517.9,41.0L518.4,41.4L518.9,42.1L519.4,41.4L519.9,41.4L520.4,42.0L520.9,42.0L521.4,42.6L522.0,42.8L522.5,42.8L523.0,42.9L523.5,42.9L524.0,43.1L524.5,42.3L525.0,41.7L525.6,40.5L526.1,41.2L526.6,41.9L527.1,42.6L527.6,42.9L528.1,42.8L528.6,42.0L529.1,42.3L529.7,41.5L530.2,40.4L530.7,40.5L531.2,40.6L531.7,41.3L532.2,42.2L532.7,42.8L533.3,43.1L533.8,42.9L534.3,42.8L534.8,41.9L535.3,42.1L535.8,41.6L536.3,42.0L536.9,42.1L537.4,42.2L537.9,42.7L538.4,43.0L538.9,43.4L539.4,42.8L539.9,43.5L540.4,44.5L541.0,43.8L541.5,44.1L542.0,43.4L542.5,43.3L543.0,44.1L543.5,44.4L544.0,44.5L544.6,45.3L545.1,45.2L545.6,44.1L546.1,44.4L546.6,43.3L547.1,41.9L547.6,42.5L548.1,42.4L548.7,42.6L549.2,42.4L549.7,43.2L550.2,42.7L550.7,43.4L551.2,42.1L551.7,41.7L552.3,42.1L552.8,41.4L553.3,42.5L553.8,41.8L554.3,42.6L554.8,42.0L555.3,42.0L555.9,41.9L556.4,41.4L556.9,41.7L557.4,41.0L557.9,41.6L558.4,41.3L558.9,40.7L559.4,42.2L560.0,41.8L560.5,41.5L561.0,41.7L561.5,41.6L562.0,41.7L562.5,41.7L563.0,42.0L563.6,41.6L564.1,42.9L564.6,43.4L565.1,43.7L565.6,44.2L566.1,43.9L566.6,43.9L567.1,43.3L567.7,43.2L568.2,42.8L568.7,42.7L569.2,42.8L569.7,42.3L570.2,42.3L570.7,42.1L571.3,41.7L571.8,41.1L572.3,41.0L572.8,40.8L573.3,41.2L573.8,40.9L574.3,41.6L574.9,41.9L575.4,43.3L575.9,44.2L576.4,44.1L576.9,42.7L577.4,42.2L577.9,41.5L578.4,41.6L579.0,41.5L579.5,41.7L580.0,42.6L580.5,43.0L581.0,42.2L581.5,42.2L582.0,41.9L582.6,42.1L583.1,41.8L583.6,42.6L584.1,41.8L584.6,41.7L585.1,41.6L585.6,41.0L586.1,40.3L586.7,40.2L587.2,39.9L587.7,40.4L588.2,40.5L588.7,41.5L589.2,41.4L589.7,42.3L590.3,42.0L590.8,41.6L591.3,41.8L591.8,41.7L592.3,41.2L592.8,41.0L593.3,40.5L593.9,40.7L594.4,41.1L594.9,41.2L595.4,41.9L595.9,42.3L596.4,42.6L596.9,42.0L597.4,42.8L598.0,41.4L598.5,41.6L599.0,41.1L599.5,40.8L600.0,40.3L600.5,40.7L601.0,40.2L601.6,41.0L602.1,40.6L602.6,40.9L603.1,40.8L603.6,41.0L604.1,40.4L604.6,40.3L605.1,42.0L605.7,41.4L606.2,41.8L606.7,42.1L607.2,43.1L607.7,43.2L608.2,43.4L608.7,43.2L609.3,42.6L609.8,42.0L610.3,42.2L610.8,42.0L611.3,41.7L611.8,41.0L612.3,41.6L612.9,42.2L613.4,41.9L613.9,42.4L614.4,42.9L614.9,42.0L615.4,42.1L615.9,42.4L616.4,42.8L617.0,41.5L617.5,41.9L618.0,42.2L618.5,41.3L619.0,40.2L619.5,40.4L620.0,39.0L620.6,39.4L621.1,39.4L621.6,39.2L622.1,39.4L622.6,40.3L623.1,39.9L623.6,39.5L624.1,39.0L624.7,38.6L625.2,38.5L625.7,39.4L626.2,40.0L626.7,39.8L627.2,40.4L627.7,41.5L628.3,42.0"/>
</g>
<!-- arrows -->
<path d="M438.1,83.7L602.3,25.2" stroke="#ff0000" stroke-width="2.4" fill="none"/>
<path d="M615.5,20.5L602.8,29.5L600.0,21.6Z" fill="#ff0000"/>
<path d="M612.9,87.8L622.8,52.3" stroke="#0000ff" stroke-width="2.6" fill="none"/>
<path d="M627.0,37.4L626.8,54.5L618.3,52.1Z" fill="#0000ff"/>
<path d="M572.8,473.2L603.7,489.9" stroke="#000" stroke-width="2.4" fill="none"/>
<path d="M616.0,496.5L600.8,493.1L604.8,485.7Z" fill="#000"/>
<!-- frame -->
<rect x="67" y="10" width="616" height="496" fill="none" stroke="#000" stroke-width="2"/>
<g stroke="#000" stroke-width="2">
<path d="M68,406.8h9 M68,307.6h9 M68,208.4h9 M68,109.2h9"/>
<path d="M118.4,505v-8.7 M221.1,505v-8.7 M323.8,505v-8.7 M426.5,505v-8.7 M529.2,505v-8.7 M631.9,505v-8.7"/>
</g>
<g font-size="21.3" text-anchor="end" fill="#000">
<text transform="translate(56.6,16.90) scale(1,1.06)">1.0</text>
<text transform="translate(56.6,116.00) scale(1,1.06)">0.8</text>
<text transform="translate(56.6,215.10) scale(1,1.06)">0.6</text>
<text transform="translate(56.6,314.20) scale(1,1.06)">0.4</text>
<text transform="translate(56.6,413.30) scale(1,1.06)">0.2</text>
<text transform="translate(56.6,512.40) scale(1,1.06)">0.0</text>
</g>
<g font-size="21" text-anchor="middle" fill="#000">
<text transform="translate(118.4,533.2) scale(1,1.06)">0</text>
<text transform="translate(221.1,533.2) scale(1,1.06)">200</text>
<text transform="translate(323.8,533.2) scale(1,1.06)">400</text>
<text transform="translate(426.5,533.2) scale(1,1.06)">600</text>
<text transform="translate(529.2,533.2) scale(1,1.06)">800</text>
<text transform="translate(631.9,533.2) scale(1,1.06)">1000</text>
</g>
<text x="367.5" y="560.1" font-size="26" text-anchor="middle">Epochs</text>
<text transform="translate(19.8,257.7) rotate(-90)" font-size="26.3" text-anchor="middle">Rate</text>
<!-- legend -->
<g stroke-width="2.7" stroke-linecap="round">
<line x1="266.9" y1="129.5" x2="318.4" y2="129.5" stroke="#000"/>
<line x1="417.3" y1="129.5" x2="468.7" y2="129.5" stroke="#ff0000"/>
<line x1="556" y1="129.5" x2="607.2" y2="129.5" stroke="#0000ff"/>
</g>
<g font-size="23.4">
<text transform="translate(325,137.6) scale(1,1.04)" fill="#000">Train loss</text>
<text transform="translate(476,137.6) scale(1,1.04)" fill="#ff0000">Train R<tspan font-size="15" dy="-10">2</tspan></text>
<text transform="translate(614,137.6) scale(1,1.04)" fill="#0000ff">Val R<tspan font-size="15" dy="-10">2</tspan></text>
</g>
<g font-size="18.6">
<text x="354" y="105.0" fill="#ff0000">Best&#160; score is 0.984</text>
<text x="533.6" y="101.7" fill="#0000ff">Best&#160; score is 0.943</text>
<text x="482.5" y="471.1" fill="#000">Lowest loss score is 0.015</text>
</g>
</svg>
</body></html>
